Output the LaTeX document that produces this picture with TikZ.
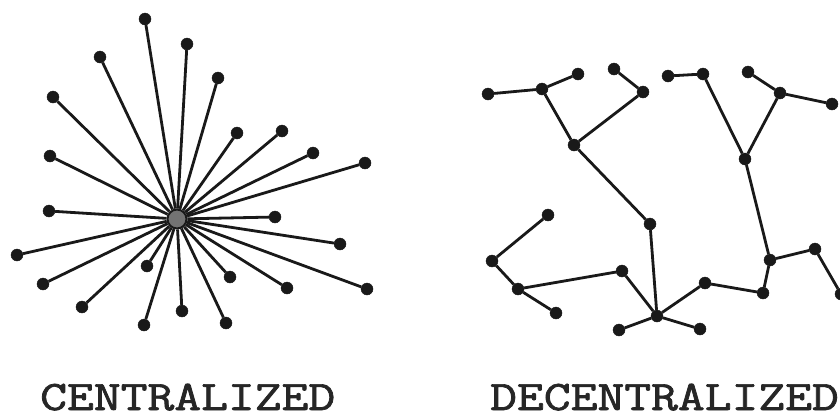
\documentclass[tikz,border=0pt]{standalone}
\usepackage{graphicx}
\usepackage{fontspec}
\newfontfamily\lblfont{Latin Modern Mono}[FakeBold=1.6]
\begin{document}
\begin{tikzpicture}[x=1pt,y=-1pt,
  dot/.style={circle,fill=black!90,draw=black!90,inner sep=0pt,minimum size=12pt},
  hub/.style={circle,fill=black!55,draw=black!90,line width=2pt,inner sep=0pt,minimum size=19pt},
  edge/.style={line width=2.8pt,draw=black!90},
  lbl/.style={anchor=base west,inner sep=0pt,font=\lblfont\fontsize{42}{46}\selectfont,text=black!85}]
\useasboundingbox (0,0) rectangle (840,416);
\clip (0,0) rectangle (840,416);
\fill[white] (0,0) rectangle (840,416);
% centralized
\node[hub] (hub) at (177,219) {};
\foreach \i/\x/\y in {1/145/19,2/187/44,3/100/57,4/218/78,5/53/97,6/237/133,7/282/131,
  8/50/156,9/313/153,10/365/163,11/49/211,12/275/217,13/17/255,14/340/244,15/43/284,
  16/147/266,17/230/277,18/287/288,19/367/289,20/82/307,21/182/311,22/144/325,23/226/323}{
  \node[dot] (l\i) at (\x,\y) {};
  \draw[edge] (hub) -- (l\i);
}
% decentralized
\foreach \n/\x/\y in {A/488/94,B/542/89,C/578/74,D/614/69,E/643/92,F/574/145,G/668/76,
  H/703/74,I/748/72,J/780/93,K/832/104,L/745/159,M/650/224,N/548/215,O/492/261,P/622/271,
  Q/518/289,R/556/313,S/657/316,T/619/330,U/700/329,V/705/283,W/763/293,X/770/260,
  Y/815/249,Z/841/294}{
  \node[dot] (\n) at (\x,\y) {};
}
\foreach \a/\b in {A/B,B/C,B/F,F/E,E/D,F/M,M/S,G/H,H/L,I/J,J/K,J/L,L/X,X/Y,Y/Z,X/W,
  W/V,V/S,S/T,S/U,S/P,P/Q,Q/O,O/N,Q/R}{
  \draw[edge] (\a) -- (\b);
}
\node[lbl] (t1) at (40,410) {\scalebox{1.24}[1]{CENTRALIZED}};
\node[lbl] (t2) at (490,410) {\scalebox{1.24}[1]{DECENTRALIZED}};
\end{tikzpicture}
\end{document}
